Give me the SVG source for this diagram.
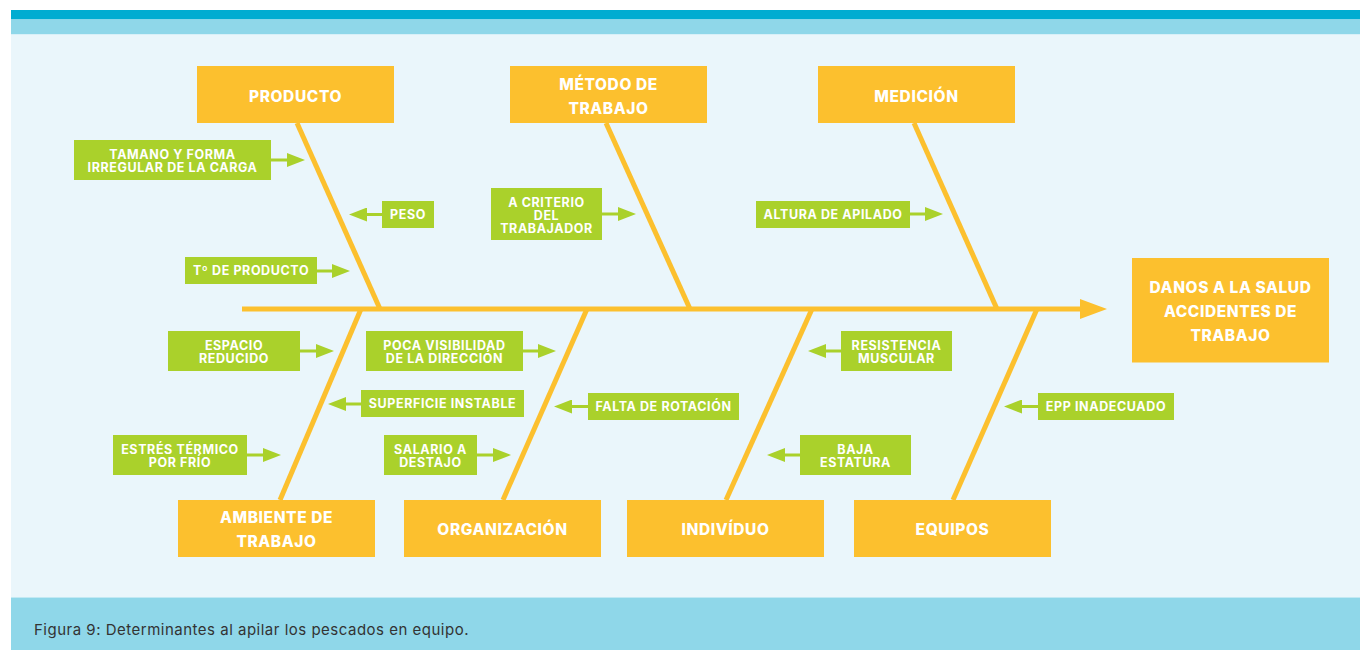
<svg xmlns="http://www.w3.org/2000/svg" width="1360" height="650" viewBox="0 0 1360 650">
<style>
.y{fill:#FCC02E}
.g{fill:#AAD12B}
.yt{font-family:Inter,"Liberation Sans",sans-serif;font-weight:800;font-size:15.5px;letter-spacing:0.6px;fill:#FFFFFF;text-anchor:middle}
.gt{font-family:Inter,"Liberation Sans",sans-serif;font-weight:700;font-size:12.5px;letter-spacing:0.6px;fill:#FFFFFF;text-anchor:middle}
.bone{stroke:#FCC02E;stroke-width:5;fill:none}
.ga{stroke:#AAD12B;stroke-width:3;fill:none;marker-end:url(#gh)}
.cap{font-family:Inter,"Liberation Sans",sans-serif;font-size:15px;letter-spacing:0.5px;fill:#333333}
</style>
<defs>
<marker id="gh" markerUnits="userSpaceOnUse" viewBox="0 0 18 14" markerWidth="18" markerHeight="14" refX="0" refY="7" orient="auto"><path d="M0,0 L18,7 L0,14 Z" fill="#AAD12B"/></marker>
<marker id="yh" markerUnits="userSpaceOnUse" viewBox="0 0 27 20" markerWidth="27" markerHeight="20" refX="0" refY="10" orient="auto"><path d="M0,0 L27,10 L0,20 Z" fill="#FCC02E"/></marker>
</defs>
<rect x="0" y="0" width="1360" height="650" fill="#FFFFFF"/>
<rect x="11" y="10" width="1349" height="9.5" fill="#00ACD1"/>
<rect x="11" y="19.5" width="1349" height="15" fill="#8FD7E9"/>
<rect x="11" y="34.5" width="1349" height="563" fill="#EAF6FB"/>
<rect x="11" y="597.5" width="1349" height="52.5" fill="#8FD7E9"/>
<text class="cap" x="34" y="635">Figura 9: Determinantes al apilar los pescados en equipo.</text>

<g id="connectors">
<line class="bone" x1="242" y1="309" x2="1080" y2="309" style="marker-end:url(#yh)"/>
<line class="bone" x1="297" y1="123" x2="380" y2="309"/>
<line class="bone" x1="606" y1="123" x2="690" y2="309"/>
<line class="bone" x1="914" y1="123" x2="997" y2="309"/>
<line class="bone" x1="361" y1="309" x2="280" y2="500"/>
<line class="bone" x1="587" y1="309" x2="503" y2="500"/>
<line class="bone" x1="812" y1="309" x2="726" y2="500"/>
<line class="bone" x1="1037" y1="309" x2="953" y2="500"/>
<line class="ga" x1="271" y1="160" x2="287" y2="160"/>
<line class="ga" x1="382" y1="214.5" x2="367" y2="214.5"/>
<line class="ga" x1="317" y1="271" x2="332" y2="271"/>
<line class="ga" x1="602" y1="214" x2="618" y2="214"/>
<line class="ga" x1="910" y1="214" x2="925" y2="214"/>
<line class="ga" x1="300" y1="351" x2="316" y2="351"/>
<line class="ga" x1="523" y1="351" x2="538" y2="351"/>
<line class="ga" x1="361" y1="404" x2="346" y2="404"/>
<line class="ga" x1="247" y1="455" x2="263" y2="455"/>
<line class="ga" x1="477" y1="455" x2="493" y2="455"/>
<line class="ga" x1="588" y1="406.5" x2="572" y2="406.5"/>
<line class="ga" x1="841" y1="351" x2="826" y2="351"/>
<line class="ga" x1="800" y1="455" x2="785" y2="455"/>
<line class="ga" x1="1038" y1="406.5" x2="1022" y2="406.5"/>
</g>

<g id="producto"><rect class="y" x="197" y="66" width="197" height="57"/><text class="yt" x="295.5" y="102">PRODUCTO</text></g>
<g id="metodo"><rect class="y" x="510" y="66" width="197" height="57"/><text class="yt" x="608.5" y="90">MÉTODO DE</text><text class="yt" x="608.5" y="114">TRABAJO</text></g>
<g id="medicion"><rect class="y" x="818" y="66" width="197" height="57"/><text class="yt" x="916.5" y="102">MEDICIÓN</text></g>
<g id="ambiente"><rect class="y" x="178" y="500" width="197" height="57"/><text class="yt" x="276.5" y="523">AMBIENTE DE</text><text class="yt" x="276.5" y="547">TRABAJO</text></g>
<g id="organizacion"><rect class="y" x="404" y="500" width="197" height="57"/><text class="yt" x="502.5" y="535">ORGANIZACIÓN</text></g>
<g id="individuo"><rect class="y" x="627" y="500" width="197" height="57"/><text class="yt" x="725.5" y="535">INDIVÍDUO</text></g>
<g id="equipos"><rect class="y" x="854" y="500" width="197" height="57"/><text class="yt" x="952.5" y="535">EQUIPOS</text></g>
<g id="efecto"><rect class="y" x="1132" y="258" width="197" height="104.5"/><text class="yt" x="1230.5" y="293">DANOS A LA SALUD</text><text class="yt" x="1230.5" y="317">ACCIDENTES DE</text><text class="yt" x="1230.5" y="341">TRABAJO</text></g>

<g id="tamano"><rect class="g" x="74" y="140" width="197" height="40"/><text class="gt" x="172.5" y="159">TAMANO Y FORMA</text><text class="gt" x="172.5" y="172">IRREGULAR DE LA CARGA</text></g>
<g id="peso"><rect class="g" x="382" y="201" width="52" height="27"/><text class="gt" x="408" y="219">PESO</text></g>
<g id="tproducto"><rect class="g" x="185" y="257" width="132" height="27"/><text class="gt" x="251" y="275">Tº DE PRODUCTO</text></g>
<g id="criterio"><rect class="g" x="491" y="188" width="111" height="52"/><text class="gt" x="546.5" y="207">A CRITERIO</text><text class="gt" x="546.5" y="219.5">DEL</text><text class="gt" x="546.5" y="232.5">TRABAJADOR</text></g>
<g id="altura"><rect class="g" x="756" y="201" width="154" height="27"/><text class="gt" x="833" y="219">ALTURA DE APILADO</text></g>
<g id="espacio"><rect class="g" x="168" y="331" width="132" height="40"/><text class="gt" x="234" y="350">ESPACIO</text><text class="gt" x="234" y="363">REDUCIDO</text></g>
<g id="poca"><rect class="g" x="366" y="331" width="157" height="40"/><text class="gt" x="444.5" y="350">POCA VISIBILIDAD</text><text class="gt" x="444.5" y="363">DE LA DIRECCIÓN</text></g>
<g id="superficie"><rect class="g" x="361" y="390" width="163" height="27"/><text class="gt" x="442.5" y="408">SUPERFICIE INSTABLE</text></g>
<g id="estres"><rect class="g" x="113" y="435" width="134" height="40"/><text class="gt" x="180" y="454">ESTRÉS TÉRMICO</text><text class="gt" x="180" y="467">POR FRÍO</text></g>
<g id="salario"><rect class="g" x="384" y="435" width="93" height="40"/><text class="gt" x="430.5" y="454">SALARIO A</text><text class="gt" x="430.5" y="467">DESTAJO</text></g>
<g id="falta"><rect class="g" x="588" y="393" width="151" height="27"/><text class="gt" x="663.5" y="411">FALTA DE ROTACIÓN</text></g>
<g id="resistencia"><rect class="g" x="841" y="331" width="111" height="40"/><text class="gt" x="896.5" y="350">RESISTENCIA</text><text class="gt" x="896.5" y="363">MUSCULAR</text></g>
<g id="baja"><rect class="g" x="800" y="435" width="111" height="40"/><text class="gt" x="855.5" y="454">BAJA</text><text class="gt" x="855.5" y="467">ESTATURA</text></g>
<g id="epp"><rect class="g" x="1038" y="393" width="136" height="27"/><text class="gt" x="1106" y="411">EPP INADECUADO</text></g>
</svg>
